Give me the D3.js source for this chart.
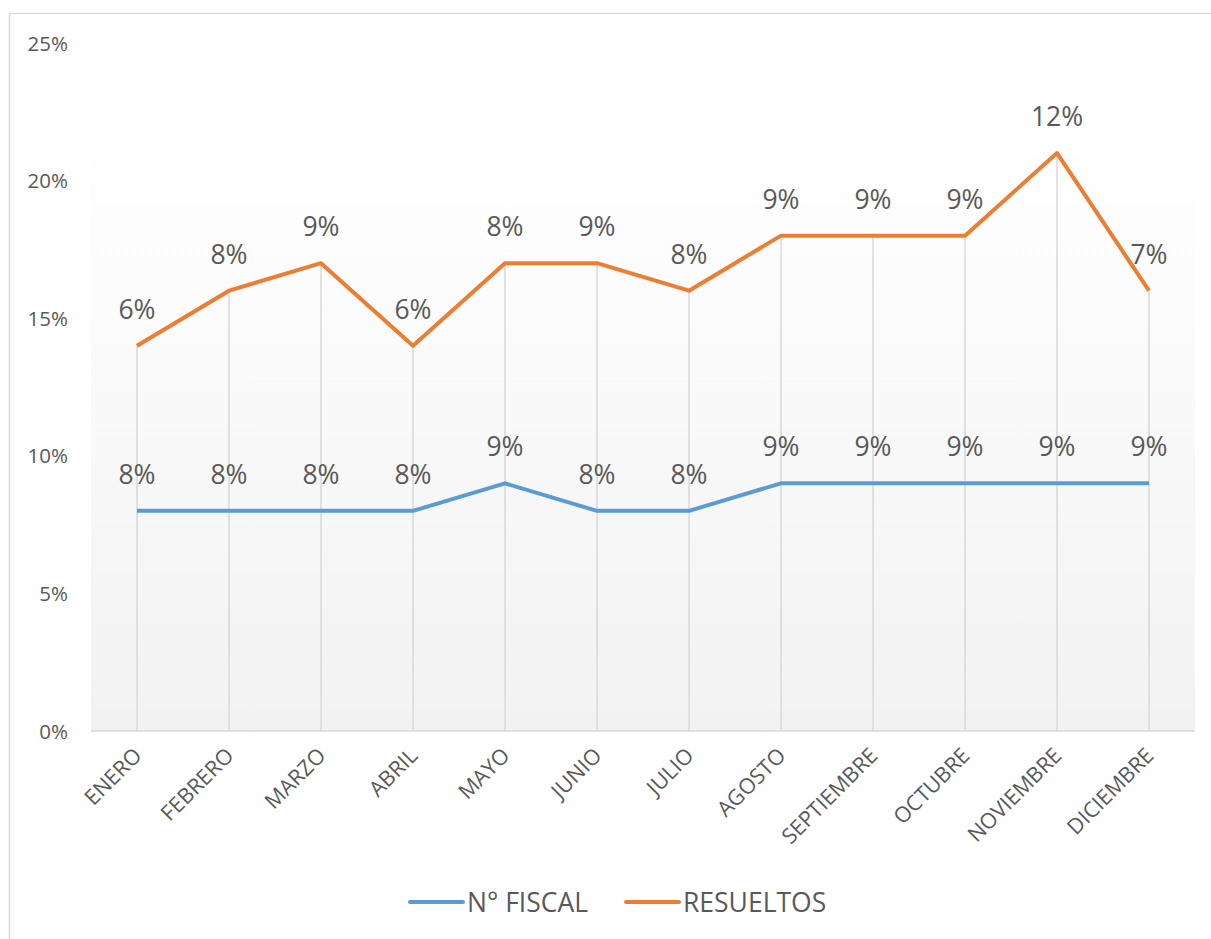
<!DOCTYPE html>
<html lang="es">
<head>
  <meta charset="UTF-8">
  <title>N° Fiscal y Resueltos</title>
  <script src="https://cdnjs.cloudflare.com/ajax/libs/d3/7.8.5/d3.min.js"></script>
  <style>
    body { margin: 0; background: #fff; }
    svg { display: block; font-family: "Open Sans", sans-serif; }
  </style>
</head>
<body>
  <svg id="chart" width="1211" height="939"></svg>
  <script>
    const meses = ["ENERO", "FEBRERO", "MARZO", "ABRIL", "MAYO", "JUNIO", "JULIO",
                   "AGOSTO", "SEPTIEMBRE", "OCTUBRE", "NOVIEMBRE", "DICIEMBRE"];
    const fiscal = [8, 8, 8, 8, 9, 8, 8, 9, 9, 9, 9, 9];
    const resueltos = [6, 8, 9, 6, 8, 9, 8, 9, 9, 9, 12, 7];
    const yTicks = [0, 5, 10, 15, 20, 25];
    const series = ["N° FISCAL", "RESUELTOS"];
    const colores = ["#5b9bd5", "#ed7d31"];

    const svg = d3.select("#chart");
    const mLeft = 91, mRight = 1195, mTop = 43, mBottom = 731, plotTop = 131;

    // gráfico de líneas apiladas
    const rows = meses.map((m, i) => ({ mes: m, a: fiscal[i], b: resueltos[i] }));
    const stacked = d3.stack().keys(["a", "b"])(rows);

    const x = d3.scaleBand().domain(meses).range([mLeft, mRight]);
    const y = d3.scaleLinear().domain([0, 25]).range([mBottom, mTop]);
    const cx = m => x(m) + x.bandwidth() / 2;

    // borde del gráfico
    svg.append("rect")
      .attr("x", 9.5).attr("y", 13.5)
      .attr("width", 1215).attr("height", 940)
      .attr("fill", "none").attr("stroke", "#d9d9d9").attr("stroke-width", 1.5);

    const grad = svg.append("defs").append("linearGradient")
      .attr("id", "fondo").attr("x1", 0).attr("y1", 0).attr("x2", 0).attr("y2", 1);
    grad.append("stop").attr("offset", 0).attr("stop-color", "#ffffff");
    grad.append("stop").attr("offset", 1).attr("stop-color", "#f2f2f2");

    svg.append("rect")
      .attr("x", mLeft).attr("y", plotTop)
      .attr("width", mRight - mLeft).attr("height", mBottom - plotTop)
      .attr("fill", "url(#fondo)");

    // líneas de unión (drop lines)
    svg.append("g").selectAll("line")
      .data(rows)
      .join("line")
      .attr("x1", d => cx(d.mes)).attr("x2", d => cx(d.mes))
      .attr("y1", (d, i) => y(stacked[1][i][1]))
      .attr("y2", mBottom)
      .attr("stroke", "#d9d9d9").attr("stroke-width", 1.5);

    // eje X
    svg.append("line")
      .attr("x1", mLeft).attr("x2", mRight)
      .attr("y1", mBottom).attr("y2", mBottom)
      .attr("stroke", "#d9d9d9").attr("stroke-width", 1.5);

    svg.append("g").selectAll("text")
      .data(meses)
      .join("text")
      .attr("transform", d => `translate(${cx(d) + 6},${mBottom + 26}) rotate(-45)`)
      .attr("text-anchor", "end")
      .attr("font-size", 21.5)
      .attr("fill", "#595959")
      .text(d => d);

    // eje Y
    svg.append("g").selectAll("text")
      .data(yTicks)
      .join("text")
      .attr("x", 68)
      .attr("y", d => y(d) + 7.5)
      .attr("text-anchor", "end")
      .attr("font-size", 20.5)
      .attr("fill", "#595959")
      .text(d => d + "%");

    const line = d3.line()
      .x(d => cx(d.data.mes))
      .y(d => y(d[1]));

    stacked.forEach((s, k) => {
      svg.append("path")
        .datum(s)
        .attr("fill", "none")
        .attr("stroke", colores[k])
        .attr("stroke-width", 4)
        .attr("stroke-linejoin", "round")
        .attr("d", line);
    });

    stacked.forEach((s, k) => {
      svg.append("g").selectAll("text")
        .data(s)
        .join("text")
        .attr("x", d => cx(d.data.mes))
        .attr("y", d => y(d[1]) - 27)
        .attr("text-anchor", "middle")
        .attr("font-size", 26.5)
        .attr("fill", "#595959")
        .text(d => (d[1] - d[0]) + "%");
    });

    // leyenda
    const leg = svg.append("g");
    const legX = [410, 626];
    series.forEach((s, k) => {
      leg.append("line")
        .attr("x1", legX[k]).attr("x2", legX[k] + 53)
        .attr("y1", 902).attr("y2", 902)
        .attr("stroke", colores[k]).attr("stroke-width", 4)
        .attr("stroke-linecap", "round");
      leg.append("text")
        .attr("x", legX[k] + 57).attr("y", 911.5)
        .attr("font-size", 26.5)
        .attr("fill", "#595959")
        .text(s);
    });
  </script>
</body>
</html>
